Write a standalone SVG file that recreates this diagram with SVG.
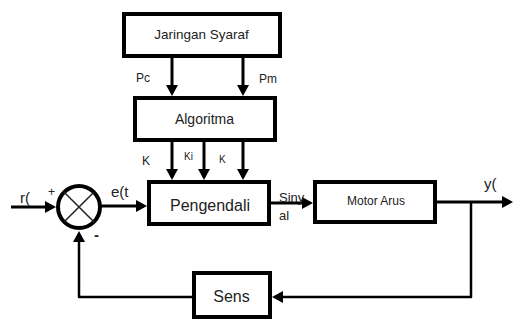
<svg xmlns="http://www.w3.org/2000/svg" width="513" height="320" viewBox="0 0 513 320">
<style>
.box{fill:#fff;stroke:#000;stroke-width:4}
.ln{fill:none;stroke:#000;stroke-width:3}
.fb{fill:none;stroke:#000;stroke-width:2.5;stroke-linejoin:round}
text{font-family:"Liberation Sans",Arial,sans-serif;fill:#222}
.c{text-anchor:middle}
</style>
<defs>
<marker id="ah" markerUnits="userSpaceOnUse" markerWidth="11" markerHeight="12" refX="8" refY="6" orient="auto" viewBox="0 0 11 12">
<path d="M0,0 L11,6 L0,12 z" fill="#000"/>
</marker>
</defs>
<g id="connectors">
<path class="ln" d="M172 56 V93" marker-end="url(#ah)"/>
<path class="ln" d="M243 56 V93" marker-end="url(#ah)"/>
<path class="ln" d="M172 140 V177" marker-end="url(#ah)"/>
<path class="ln" d="M204 140 V177" marker-end="url(#ah)"/>
<path class="ln" d="M243 140 V177" marker-end="url(#ah)"/>
<path class="ln" d="M11 207 H53" marker-end="url(#ah)"/>
<path class="ln" d="M101 206 H144" marker-end="url(#ah)"/>
<path class="ln" d="M269 203 H310" marker-end="url(#ah)"/>
<path class="ln" d="M435 202 H510" marker-end="url(#ah)"/>
<path class="fb" d="M471 202 V297 H275" marker-end="url(#ah)"/>
<path class="fb" d="M194 297 H79 V234" marker-end="url(#ah)"/>
</g>
<g id="jaringan">
<rect class="box" x="124" y="14" width="156" height="42"/>
<text class="c" x="201.5" y="39" font-size="13.5">Jaringan Syaraf</text>
</g>
<g id="algoritma">
<rect class="box" x="135" y="98" width="140" height="42"/>
<text class="c" x="204.5" y="124" font-size="14">Algoritma</text>
</g>
<g id="pengendali">
<rect class="box" x="149" y="182" width="120" height="42"/>
<text class="c" x="210" y="211" font-size="16">Pengendali</text>
</g>
<g id="motor">
<rect class="box" x="315" y="182" width="120" height="40"/>
<text class="c" x="376" y="205" font-size="12">Motor Arus</text>
</g>
<g id="sens">
<rect class="box" x="194" y="273" width="76" height="44"/>
<text class="c" x="231.5" y="302" font-size="16">Sens</text>
</g>
<g id="sum">
<circle cx="79" cy="207" r="21" fill="#fff" stroke="#000" stroke-width="4"/>
<path d="M64.2 192.2 L93.8 221.8 M93.8 192.2 L64.2 221.8" stroke="#222" stroke-width="1.5"/>
</g>
<g id="labels">
<text x="136" y="82" font-size="12">Pc</text>
<text x="259" y="83" font-size="12">Pm</text>
<text x="142" y="165" font-size="12">K</text>
<text x="184" y="160" font-size="10">Ki</text>
<text x="219" y="163" font-size="10">K</text>
<text x="111" y="197" font-size="15">e(t</text>
<text x="279" y="202" font-size="13">Siny</text>
<text x="279" y="220" font-size="13">al</text>
<text x="20" y="203" font-size="15">r(</text>
<text x="48" y="196" font-size="12">+</text>
<text x="94" y="240" font-size="15" font-weight="bold">-</text>
<text x="484" y="189" font-size="15">y(</text>
</g>
</svg>
